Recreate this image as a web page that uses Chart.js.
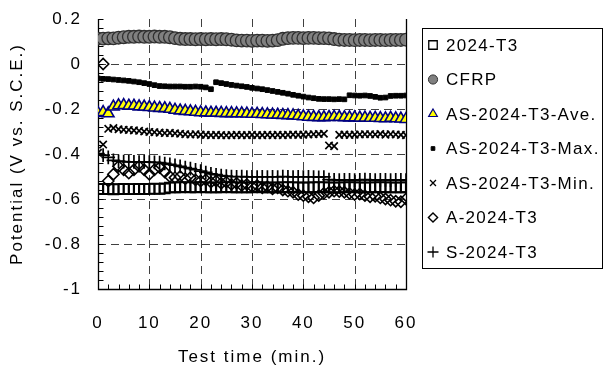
<!DOCTYPE html>
<html><head><meta charset="utf-8">
<script src="https://cdn.jsdelivr.net/npm/chart.js@4.4.0/dist/chart.umd.min.js"></script>
<style>html,body{margin:0;padding:0;background:#fff}#wrap{width:605px;height:374px;position:relative}</style>
</head><body><div id="wrap"><canvas id="c"></canvas></div>
<script>
const minutes = [0,1,2,3,4,5,6,7,8,9,10,11,12,13,14,15,16,17,18,19,20,21,22,23,24,25,26,27,28,29,30,31,32,33,34,35,36,37,38,39,40,41,42,43,44,45,46,47,48,49,50,51,52,53,54,55,56,57,58,59,60];

const s2024T3 = [-0.555,-0.556,-0.555,-0.557,-0.556,-0.555,-0.556,-0.556,-0.555,-0.556,-0.555,-0.554,-0.555,-0.553,
 -0.549,-0.548,-0.548,-0.547,-0.548,-0.548,-0.547,-0.548,-0.549,-0.548,
 -0.548,-0.547,-0.548,-0.548,-0.549,-0.548,-0.548,-0.547,-0.548,-0.548,
 -0.549,-0.548,-0.548,-0.547,-0.548,-0.548,-0.549,-0.548,-0.548,-0.547,
 -0.548,-0.548,-0.549,-0.548,-0.548,-0.547,-0.548,-0.548,-0.549,-0.548,
 -0.548,-0.547,-0.548,-0.548,-0.549,-0.548,-0.548];

const sCFRP = [0.113,0.113,0.114,0.114,
 0.117,0.119,0.121,0.121,0.122,0.121,0.121,0.122,0.121,0.121,0.119,
 0.115,0.112,0.111,0.111,0.110,0.111,0.110,0.111,0.110,0.111,0.110,0.108,
 0.105,0.104,0.104,0.103,0.104,0.104,0.103,0.104,0.106,
 0.112,0.115,0.116,0.116,0.115,0.116,0.116,0.115,0.115,0.114,0.111,
 0.108,0.107,0.107,0.106,0.107,0.107,0.106,0.107,0.107,0.106,0.107,0.107,0.107,0.108];

const sASAve = [-0.218,-0.214,-0.22,
 -0.19,-0.184,-0.183,-0.186,-0.186,-0.189,-0.19,-0.192,
 -0.194,-0.196,-0.197,-0.2,-0.204,-0.207,-0.209,-0.211,-0.213,-0.215,
 -0.216,-0.217,-0.217,-0.218,-0.219,-0.219,-0.22,-0.22,-0.221,-0.222,
 -0.222,-0.223,-0.224,-0.225,-0.226,-0.227,-0.228,-0.229,-0.231,-0.233,
 -0.235,-0.236,-0.237,-0.237,-0.236,-0.235,-0.236,-0.237,-0.238,-0.238,
 -0.239,-0.239,-0.24,-0.24,-0.241,-0.242,-0.24,-0.242,-0.243,-0.245];

const sASMax = [-0.064,-0.066,-0.067,-0.069,-0.071,-0.073,-0.075,-0.078,-0.081,-0.085,-0.089,-0.094,
 -0.098,-0.099,-0.1,-0.1,-0.1,-0.101,-0.101,-0.1,-0.101,-0.104,
 -0.112,
 -0.081,-0.085,-0.089,-0.093,-0.096,-0.099,-0.102,-0.106,-0.109,-0.112,
 -0.116,-0.12,-0.124,-0.128,-0.132,-0.137,-0.141,-0.145,-0.149,-0.152,
 -0.155,-0.156,-0.156,-0.157,-0.156,-0.157,
 -0.139,-0.14,-0.141,-0.14,-0.142,-0.146,-0.15,-0.149,-0.142,-0.141,-0.141,-0.14];

const sASMin = [-0.395,-0.358,
 -0.288,-0.285,-0.29,-0.292,-0.293,-0.295,-0.297,-0.3,-0.302,-0.303,
 -0.305,-0.307,-0.306,-0.308,-0.31,-0.312,-0.313,-0.312,-0.314,-0.315,
 -0.316,-0.315,-0.316,-0.317,-0.316,-0.315,-0.316,-0.316,-0.315,-0.316,
 -0.316,-0.315,-0.316,-0.315,-0.316,-0.315,-0.314,-0.315,-0.314,-0.313,-0.312,-0.311,-0.31,
 -0.362,-0.365,
 -0.315,-0.314,-0.315,-0.314,-0.313,-0.312,-0.312,-0.313,-0.311,-0.314,-0.312,-0.313,-0.315,-0.316];

const sA2024T3 = [null,0.0,-0.52,
 -0.49,-0.455,-0.47,-0.485,-0.47,-0.455,-0.47,-0.49,-0.47,-0.46,
 -0.48,-0.5,-0.505,-0.5,-0.51,-0.505,-0.515,-0.52,-0.515,-0.525,
 -0.52,-0.53,-0.525,-0.535,-0.53,-0.54,-0.535,-0.545,-0.54,-0.55,
 -0.545,-0.555,-0.55,-0.56,-0.565,-0.57,-0.58,-0.585,-0.59,-0.595,
 -0.585,-0.575,-0.57,-0.565,-0.567,-0.57,-0.575,-0.58,-0.578,-0.585,
 -0.59,-0.588,-0.595,-0.6,-0.605,-0.61,-0.612,-0.6];

const sS2024T3 = [-0.398,-0.405,-0.415,
 -0.428,-0.432,-0.434,-0.435,-0.435,-0.436,-0.435,-0.436,-0.437,-0.438,
 -0.442,-0.446,-0.45,-0.455,-0.46,-0.465,-0.47,-0.476,-0.482,-0.488,
 -0.492,-0.496,-0.498,-0.5,-0.501,-0.5,-0.502,-0.501,-0.502,-0.501,
 -0.502,-0.501,-0.502,-0.5,-0.501,-0.502,-0.501,-0.502,-0.501,-0.502,-0.503,-0.502,
 -0.514,-0.515,-0.516,-0.515,-0.515,-0.516,-0.515,-0.514,-0.515,-0.516,-0.515,-0.515,-0.516,-0.515,-0.515,-0.516];

const seriesNames = ['2024-T3','CFRP','AS-2024-T3-Ave.','AS-2024-T3-Max.','AS-2024-T3-Min.','A-2024-T3','S-2024-T3'];
const seriesValues = [s2024T3, sCFRP, sASAve, sASMax, sASMin, sA2024T3, sS2024T3];
const yTickValues = [0.2, 0, -0.2, -0.4, -0.6, -0.8, -1];
const xTickValues = [0, 10, 20, 30, 40, 50, 60];
const yMinorStep = 0.04;
const xMinorStep = 2;

const FONT = '"Liberation Sans", Arial, sans-serif';

const markerStyles = [
  {pointStyle:'rect', radius:7, bg:'rgba(0,0,0,0)', border:'#000', bw:1.8, legendRadius:6, legendBg:'#fff', lbw:1.3},
  {pointStyle:'circle', radius:6.3, bg:'#808080', border:'#303030', bw:1.3, legendRadius:4.6, lbw:1},
  {pointStyle:'triangle', radius:6.6, bg:'#ffff00', border:'#000080', bw:1.6, legendRadius:5, lbw:1.2},
  {pointStyle:'rect', radius:3.3, bg:'#000', border:'#000', bw:1, legendRadius:2.6, lbw:1},
  {pointStyle:'crossRot', radius:5.2, bg:'#000', border:'#000', bw:1.7, legendRadius:4.2, lbw:1.3},
  {pointStyle:'rectRot', radius:5.6, bg:'rgba(0,0,0,0)', border:'#000', bw:1.6, legendRadius:4.6, legendBg:'#fff', lbw:1.4},
  {pointStyle:'cross', radius:6.8, bg:'#000', border:'#000', bw:1.7, legendRadius:5.5, lbw:1.3}
];

const datasets = seriesNames.map((name, i) => ({
  label: name,
  data: minutes.map((t, k) => ({x: t, y: seriesValues[i][k]})),
  showLine: false,
  pointStyle: markerStyles[i].pointStyle,
  pointRadius: markerStyles[i].radius,
  pointBackgroundColor: markerStyles[i].bg,
  pointBorderColor: markerStyles[i].border,
  pointBorderWidth: markerStyles[i].bw,
  pointHoverRadius: markerStyles[i].radius
}));

const framePlugin = {
  id: 'frame',
  beforeDraw(chart) {
    chart.ctx.letterSpacing = '2px';
  },
  beforeDatasetsDraw(chart) {
    const {ctx, chartArea: a, scales: {x, y}} = chart;
    ctx.save();
    ctx.letterSpacing = '0px';
    ctx.lineWidth = 1;
    ctx.strokeStyle = '#404040';
    ctx.setLineDash([8, 5]);
    const yMax = Math.max(...yTickValues), yMin = Math.min(...yTickValues);
    const xMax = Math.max(...xTickValues), xMin = Math.min(...xTickValues);
    yTickValues.forEach(v => {
      if (v === yMax || v === yMin) return;
      const py = Math.round(y.getPixelForValue(v)) + 0.5;
      ctx.beginPath(); ctx.moveTo(a.left, py); ctx.lineTo(a.right, py); ctx.stroke();
    });
    xTickValues.forEach(v => {
      if (v === xMax || v === xMin) return;
      const px = Math.round(x.getPixelForValue(v)) + 0.5;
      ctx.beginPath(); ctx.moveTo(px, a.top); ctx.lineTo(px, a.bottom); ctx.stroke();
    });
    ctx.setLineDash([]);
    ctx.strokeStyle = '#000';
    ctx.lineWidth = 1.3;
    const L = Math.round(a.left) + 0.5, R = Math.round(a.right) + 0.5, B = Math.round(a.bottom) + 0.5, T = Math.round(a.top);
    ctx.beginPath();
    ctx.moveTo(L, T); ctx.lineTo(L, B); ctx.lineTo(R, B); ctx.lineTo(R, T);
    ctx.stroke();
    ctx.lineWidth = 1;
    const nY = Math.round((yMax - yMin) / yMinorStep);
    for (let k = 0; k <= nY; k++) {
      const py = Math.round(y.getPixelForValue(yMin + k * yMinorStep)) + 0.5;
      ctx.beginPath(); ctx.moveTo(L, py); ctx.lineTo(L + 5, py); ctx.stroke();
    }
    const nX = Math.round((xMax - xMin) / xMinorStep);
    for (let k = 0; k <= nX; k++) {
      const px = Math.round(x.getPixelForValue(xMin + k * xMinorStep)) + 0.5;
      ctx.beginPath(); ctx.moveTo(px, B); ctx.lineTo(px, B - 5); ctx.stroke();
    }
    ctx.restore();
  },
  afterDraw(chart) {
    const ctx = chart.ctx;
    ctx.save();
    const Lx = 422, Ty = 28, Rx = 602, By = 268;
    ctx.letterSpacing = '0px';
    ctx.strokeStyle = '#000'; ctx.lineWidth = 1;
    ctx.strokeRect(Lx + 0.5, Ty + 0.5, Rx - Lx, By - Ty);
    ctx.font = '17px ' + FONT;
    ctx.textBaseline = 'middle';
    ctx.textAlign = 'left';
    chart.data.datasets.forEach((ds, i) => {
      const yy = 45 + i * 34.5;
      const st = markerStyles[i];
      ctx.fillStyle = st.legendBg || st.bg;
      ctx.strokeStyle = st.border;
      ctx.lineWidth = st.lbw;
      Chart.helpers.drawPoint(ctx, {pointStyle: st.pointStyle, radius: st.legendRadius, borderWidth: st.lbw, rotation: 0}, 433, yy);
      ctx.fillStyle = '#000';
      ctx.letterSpacing = '1.3px';
      ctx.fillText(ds.label, 446, yy + 1);
      ctx.letterSpacing = '0px';
    });
    ctx.restore();
  }
};

new Chart(document.getElementById('c'), {
  type: 'scatter',
  data: { datasets },
  options: {
    responsive: true,
    maintainAspectRatio: false,
    animation: false,
    events: [],
    layout: { padding: { top: 19, right: 199, left: 0, bottom: 0 } },
    plugins: { legend: { display: false }, tooltip: { enabled: false } },
    scales: {
      x: {
        type: 'linear', min: 0, max: 60,
        afterFit: s => { s.height = 85; s.paddingLeft = 0; s.paddingRight = 0; },
        afterBuildTicks: s => { s.ticks = xTickValues.map(v => ({value: v})); },
        grid: { display: false, drawTicks: false },
        border: { display: false },
        ticks: { color: '#000', font: { family: FONT, size: 17 }, padding: 24, maxRotation: 0,
                 callback: v => String(v) },
        title: { display: true, text: 'Test time (min.)', color: '#000', font: { family: FONT, size: 17 }, padding: { top: 0, bottom: 6 } }
      },
      y: {
        type: 'linear', min: -1, max: 0.2,
        afterFit: s => { s.width = 98; s.paddingTop = 0; s.paddingBottom = 0; },
        afterBuildTicks: s => { s.ticks = yTickValues.map(v => ({value: v})); },
        grid: { display: false, drawTicks: false },
        border: { display: false },
        ticks: { color: '#000', font: { family: FONT, size: 17 }, padding: 16,
                 callback: v => { const r = Math.round(v * 10) / 10; return r === 0 ? '0' : String(r); } },
        title: { display: true, text: 'Potential (V vs. S.C.E.)', color: '#000', font: { family: FONT, size: 17 }, padding: { top: 7, bottom: 0 } }
      }
    }
  },
  plugins: [framePlugin]
});
</script>
</body></html>
